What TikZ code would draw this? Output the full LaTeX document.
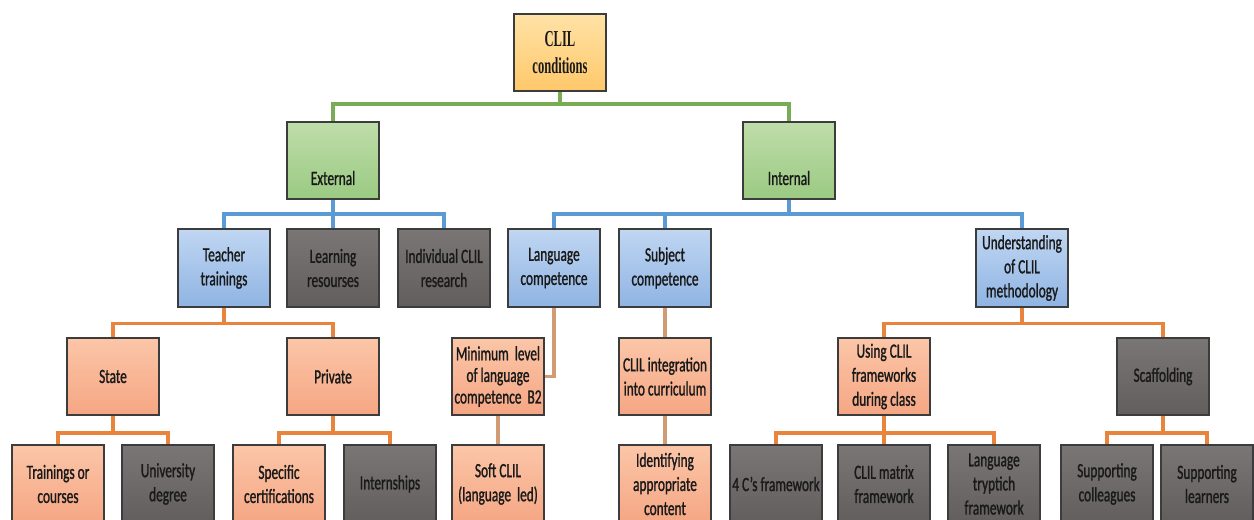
\documentclass[tikz,border=0pt]{standalone}
\usepackage{fontspec}
\setmainfont[FakeStretch=0.66,FakeBold=1.1]{Carlito}
\newfontfamily\rootfont[FakeStretch=0.55]{Liberation Serif}

% box fills (top / bottom of the vertical gradient)
\definecolor{rootT}{HTML}{FFE2A6}
\definecolor{rootB}{HTML}{FFC86A}
\definecolor{grnT}{HTML}{BFDDAA}
\definecolor{grnB}{HTML}{9ACA82}
\definecolor{bluT}{HTML}{C0D6F2}
\definecolor{bluB}{HTML}{8FB4E3}
\definecolor{salT}{HTML}{FBC6A8}
\definecolor{salB}{HTML}{F5A683}
\definecolor{drkT}{HTML}{7A7676}
\definecolor{drkB}{HTML}{625E5E}
\definecolor{boxline}{HTML}{3C3C3C}
% connector colours
\definecolor{grnline}{HTML}{78AD55}
\definecolor{bluline}{HTML}{5B9BD5}
\definecolor{orgline}{HTML}{E8843C}
\definecolor{tanline}{HTML}{D19B74}

\tikzset{
  box/.style={rectangle, draw=boxline, line width=0.9pt,
    minimum width=1.84cm, minimum height=1.55cm, inner sep=1pt,
    align=center, text=black!90,
    font=\fontsize{11.5}{13.7}\selectfont},
  rootbox/.style={box, top color=rootT, bottom color=rootB,
    font=\rootfont\bfseries\fontsize{13}{15.2}\selectfont},
  greenbox/.style={box, top color=grnT, bottom color=grnB},
  bluebox/.style={box, top color=bluT, bottom color=bluB},
  salmonbox/.style={box, top color=salT, bottom color=salB},
  darkbox/.style={box, top color=drkT, bottom color=drkB},
  tightbox/.style={font=\fontsize{11.5}{12.3}\selectfont},
  lowtext/.style={font=\fontsize{11.5}{13.7}\selectfont, text=black!90},
  conn/.style={line width=2pt, line join=miter},
  gconn/.style={conn, draw=grnline},
  bconn/.style={conn, draw=bluline},
  oconn/.style={conn, draw=orgline},
  tconn/.style={conn, draw=tanline},
}

\begin{document}
\begin{tikzpicture}[x=0.02cm, y=-0.02cm]
\useasboundingbox (0,0) rectangle (1254,520);

% level 1
\node[rootbox] (root) at (560,52.5) {CLIL\\conditions};

% level 2
\node[greenbox] (ext) at (333,160.5) {};
\node[lowtext] (extT) at (333,178) {External};
\node[greenbox] (int) at (789,160.5) {};
\node[lowtext] (intT) at (789,178) {Internal};

% level 3
\node[bluebox] (tt)  at (224,268) {Teacher\\trainings};
\node[darkbox] (lr)  at (333,268) {Learning\\resourses};
\node[darkbox] (icr) at (444,268) {Individual CLIL\\research};
\node[bluebox] (lc)  at (554,268) {Language\\competence};
\node[bluebox] (sc)  at (665,268) {Subject\\competence};
\node[bluebox] (und) at (1022,268) {Understanding\\of CLIL\\methodology};

% level 4
\node[salmonbox] (state) at (113,376.5) {State};
\node[salmonbox] (priv)  at (333,376.5) {Private};
\node[salmonbox, tightbox] (minl) at (498,376.5) {Minimum~~level\\of language\\competence~~B2};
\node[salmonbox] (cii)   at (665,376.5) {CLIL integration\\into curriculum};
\node[salmonbox] (ucf)   at (884,376.5) {Using CLIL\\frameworks\\during class};
\node[darkbox]   (scaf)  at (1163,376.5) {Scaffolding};

% level 5
\node[salmonbox] (toc)  at (58,484)   {Trainings or\\courses};
\node[darkbox]   (ud)   at (168,484)  {University\\degree};
\node[salmonbox] (spc)  at (279,484)  {Specific\\certifications};
\node[darkbox]   (itn)  at (390,484)  {Internships};
\node[salmonbox] (soft) at (498,484)  {Soft CLIL\\(language~~led)};
\node[salmonbox] (iac)  at (665,484)  {Identifying\\appropriate\\content};
\node[darkbox]   (fcs)  at (776,484)  {4 C’s framework};
\node[darkbox]   (cmf)  at (884,484)  {CLIL matrix\\framework};
\node[darkbox]   (ltf)  at (994,484)  {Language\\tryptich\\framework};
\node[darkbox]   (supc) at (1107,484) {Supporting\\colleagues};
\node[darkbox]   (supl) at (1207,484) {Supporting\\learners};

% root to external / internal
\foreach \c in {ext,int}
  \draw[gconn] (root.south) -- ++(0,12) -| (\c.north);

% external / internal to their factors
\foreach \c in {tt,lr,icr}
  \draw[bconn] (ext.south) -- ++(0,14) -| (\c.north);
\foreach \c in {lc,sc,und}
  \draw[bconn] (int.south) -- ++(0,14) -| (\c.north);

% third level branches
\foreach \c in {state,priv}
  \draw[oconn] (tt.south) -- ++(0,16) -| (\c.north);
\foreach \c in {ucf,scaf}
  \draw[oconn] (und.south) -- ++(0,16) -| (\c.north);
\draw[tconn] (lc.south) |- (minl.east);
\draw[tconn] (sc.south) -- (cii.north);

% fourth level branches
\foreach \c in {toc,ud}
  \draw[oconn] (state.south) -- ++(0,17) -| (\c.north);
\foreach \c in {spc,itn}
  \draw[oconn] (priv.south) -- ++(0,17) -| (\c.north);
\foreach \c in {fcs,cmf,ltf}
  \draw[oconn] (ucf.south) -- ++(0,17) -| (\c.north);
\foreach \c in {supc,supl}
  \draw[oconn] (scaf.south) -- ++(0,17) -| (\c.north);
\draw[tconn] (minl.south) -- (soft.north);
\draw[tconn] (cii.south) -- (iac.north);
\end{tikzpicture}
\end{document}
